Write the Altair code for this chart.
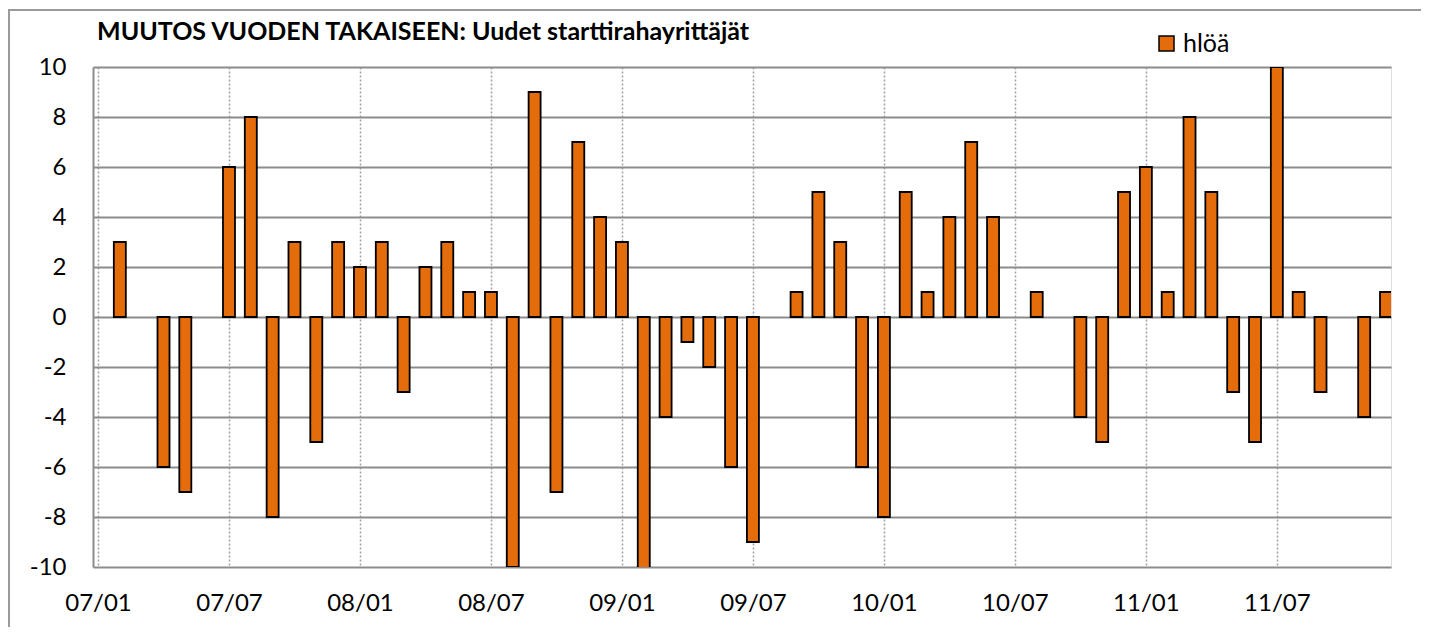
import altair as alt
import pandas as pd

# Monthly change vs. a year earlier, Jan 2007 .. Dec 2011
values = [0, 3, 0, -6, -7, 0, 6, 8, -8, 3, -5, 3,
          2, 3, -3, 2, 3, 1, 1, -10, 9, -7, 7, 4,
          3, -11, -4, -1, -2, -6, -9, 0, 1, 5, 3, -6,
          -8, 5, 1, 4, 7, 4, 0, 1, 0, -4, -5, 5,
          6, 1, 8, 5, -3, -5, 10, 1, -3, 0, -4, 1]
tick_labels = ["07/01", "07/07", "08/01", "08/07", "09/01",
               "09/07", "10/01", "10/07", "11/01", "11/07"]
y_ticks = [-10, -8, -6, -4, -2, 0, 2, 4, 6, 8, 10]
series_name = "hlöä"
title_text = "MUUTOS VUODEN TAKAISEEN: Uudet starttirahayrittäjät"

months = pd.date_range("2007-01-01", periods=len(values), freq="MS").strftime("%y/%m")
df = pd.DataFrame({"i": list(range(len(values))), "month": months,
                   "value": values, "series": series_name})

tick_pos = [6 * k for k in range(len(tick_labels))]
label_expr = "[" + ",".join("'%s'" % t for t in tick_labels) + "][round(datum.value/6)]"

FONT = "Lato"
ORANGE = "#E46C0A"
GRID = "#8c8c8c"

frame = alt.Chart(alt.Data(values=[{}])).mark_rect(
    fill="transparent", stroke="#9a9a9a", strokeWidth=2
).encode(x=alt.value(-84), x2=alt.value(1420), y=alt.value(-57), y2=alt.value(700))

title_mark = alt.Chart(alt.Data(values=[{"t": title_text}])).mark_text(
    font=FONT, fontSize=25, fontWeight="bold", color="black",
    align="left", baseline="alphabetic"
).encode(x=alt.value(4), y=alt.value(-27), text="t:N")

bars = alt.Chart(df).transform_filter("datum.value != 0").mark_bar(
    size=12, stroke="black", strokeWidth=1.8, clip=True
).encode(
    x=alt.X("i:Q",
            scale=alt.Scale(domain=[0, len(values) - 1], nice=False, zero=False),
            axis=alt.Axis(values=tick_pos, labelExpr=label_expr, title=None,
                          grid=True, gridColor="#a0a0a0", gridDash=[2, 2], gridWidth=1.5,
                          ticks=False, tickSize=0, domain=False,
                          labelFontSize=24, labelPadding=24, labelFont=FONT,
                          labelColor="black", labelFlush=False)),
    y=alt.Y("value:Q", stack=None,
            scale=alt.Scale(domain=[-10, 10], nice=False),
            axis=alt.Axis(values=y_ticks, labelExpr="'' + datum.value", title=None,
                          grid=True, gridColor=GRID,
                          gridWidth=2, ticks=False, tickSize=0, domain=True,
                          domainColor=GRID, domainWidth=2,
                          labelFontSize=24, labelPadding=27, labelFont=FONT,
                          labelColor="black")),
    color=alt.Color("series:N", scale=alt.Scale(range=[ORANGE]),
                    legend=alt.Legend(title=None, orient="none", legendX=1061, legendY=-36,
                                      padding=0, symbolType="square", symbolSize=225,
                                      symbolStrokeColor="black", symbolStrokeWidth=1.5,
                                      labelFont=FONT, labelFontSize=25, labelColor="black",
                                      labelOffset=4)),
)

chart = alt.layer(frame, title_mark, bars).properties(
    width=1298, height=500,
    padding={"left": 85, "top": 59, "right": 30, "bottom": 60},
    autosize=alt.AutoSizeParams(type="none"),
).configure_view(stroke=None).configure(background="white")

chart.save("out.html", embed_options={"renderer": "svg", "actions": False})
